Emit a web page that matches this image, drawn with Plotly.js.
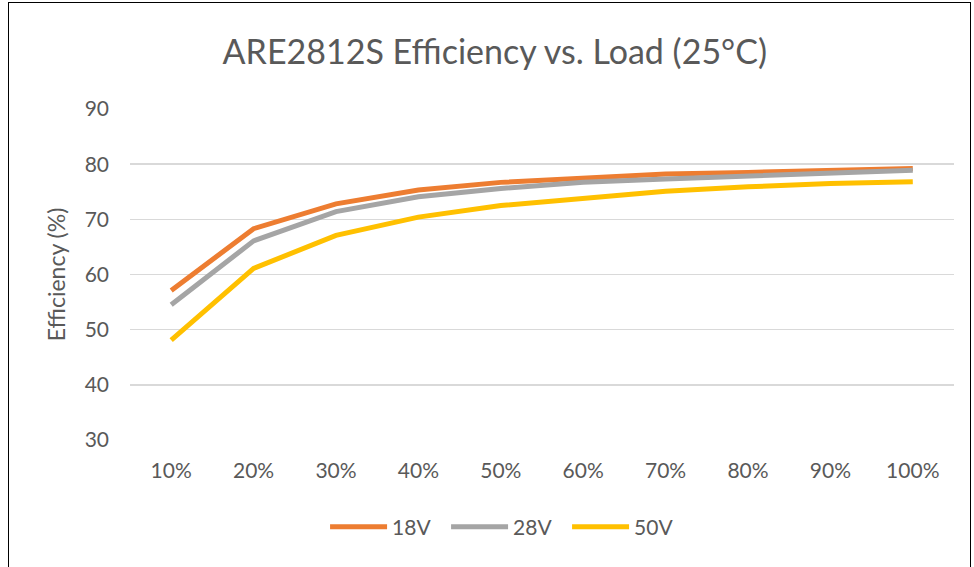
<!DOCTYPE html>
<html>
<head>
<meta charset="utf-8">
<script src="https://cdn.plot.ly/plotly-3.0.1.min.js"></script>
<style>
  html, body { margin: 0; padding: 0; background: #fff; }
  #chart { width: 974px; height: 567px; }
  #frame { position: absolute; left: 8px; top: 2px; width: 963px; height: 580px; border: 1px solid #000; pointer-events: none; box-sizing: border-box; }
</style>
</head>
<body>
<div id="chart"></div>
<div id="frame"></div>
<script>
const loads = ["10%", "20%", "30%", "40%", "50%", "60%", "70%", "80%", "90%", "100%"];
const eff18V = [57.1, 68.3, 72.8, 75.3, 76.7, 77.4, 78.2, 78.5, 78.9, 79.2];
const eff28V = [54.5, 66.1, 71.4, 74.1, 75.6, 76.7, 77.3, 77.9, 78.5, 78.9];
const eff50V = [48.1, 61.1, 67.1, 70.4, 72.5, 73.9, 75.1, 75.9, 76.5, 76.8];
const seriesNames = ["18V", "28V", "50V"];
const seriesColors = ["#ED7D31", "#A5A5A5", "#FFC000"];

const fontFam = "Lato, 'Open Sans', sans-serif";
const textCol = "#595959";

const data = [eff18V, eff28V, eff50V].map((ys, i) => ({
  x: loads, y: ys, type: "scatter", mode: "lines", name: seriesNames[i],
  line: { color: seriesColors[i], width: 5 }
}));

const layout = {
  width: 974, height: 567,
  margin: { l: 130, r: 20, t: 109, b: 127 },
  paper_bgcolor: "#fff", plot_bgcolor: "#fff",
  font: { family: fontFam, color: textCol, size: 21 },
  title: { text: "ARE2812S Efficiency vs. Load (25°C)", font: { size: 34, color: textCol, family: fontFam }, x: 0.508, xanchor: "center", y: 1 - 52/567, yanchor: "middle" },
  xaxis: {
    type: "category", range: [-0.5, 9.5], showgrid: false, zeroline: false, showline: false,
    ticks: "", tickfont: { size: 21, color: textCol }, ticklabelstandoff: 16
  },
  yaxis: {
    range: [30, 90], dtick: 10, tick0: 30, showgrid: true, gridcolor: "#D9D9D9", gridwidth: 1.5,
    zeroline: false, showline: false, ticks: "", tickfont: { size: 21, color: textCol },
    ticklabelstandoff: 20,
    title: { text: "Efficiency (%)", font: { size: 23, color: textCol }, standoff: 12 }
  },
  showlegend: true,
  legend: {
    orientation: "h", x: 0.457, xanchor: "center", y: -0.263, yanchor: "middle",
    font: { size: 21, color: textCol }, itemwidth: 57, tracegroupgap: 0,
    entrywidth: 49, entrywidthmode: "pixels"
  }
};

Plotly.newPlot("chart", data, layout, { displayModeBar: false, staticPlot: true });
</script>
</body>
</html>
